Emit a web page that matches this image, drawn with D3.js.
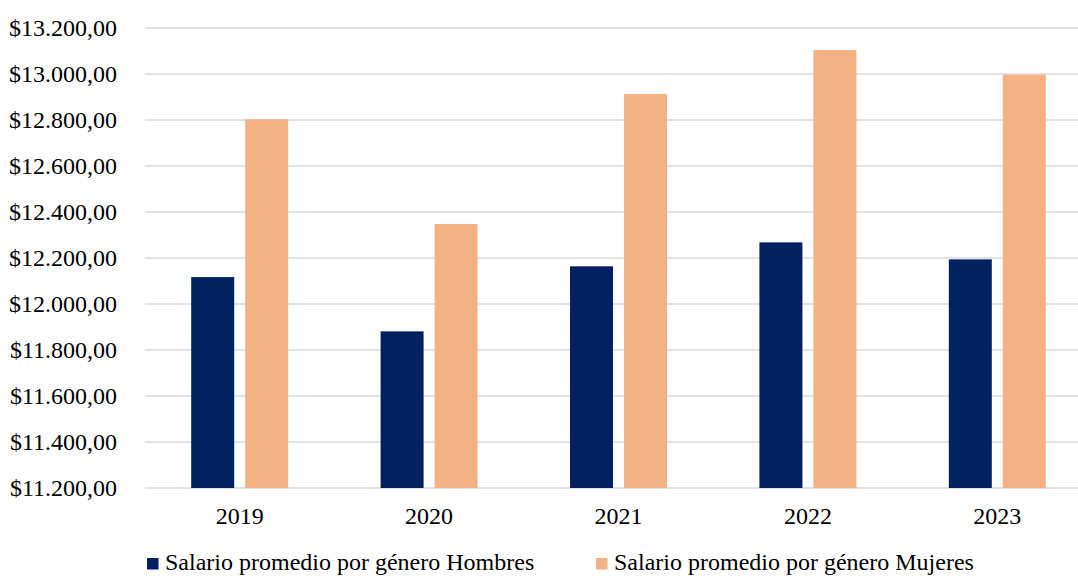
<!DOCTYPE html>
<html>
<head>
<meta charset="utf-8">
<script src="https://cdn.jsdelivr.net/npm/d3@7"></script>
<style>
  html, body { margin: 0; padding: 0; background: #fff; }
  svg { display: block; font-family: "Liberation Serif", "Times New Roman", serif; }
</style>
</head>
<body>
<svg id="chart" width="1078" height="576"></svg>
<script>
const categories = ["2019", "2020", "2021", "2022", "2023"];
const seriesNames = ["Salario promedio por género Hombres", "Salario promedio por género Mujeres"];
const hombres = [12117, 11881, 12164, 12268, 12194];
const mujeres = [12803, 12348, 12913, 13104, 12997];
const yTicks = [11200, 11400, 11600, 11800, 12000, 12200, 12400, 12600, 12800, 13000, 13200];
const colors = ["#002060", "#F4B183"];

const svg = d3.select("#chart");
const plot = { left: 145, right: 1092, top: 28, bottom: 488 };
const FS = "24px";

const x0 = d3.scaleBand().domain(categories).range([plot.left, plot.right])
  .paddingInner(0.488).paddingOuter(0.244);
const x1 = d3.scaleBand().domain([0, 1]).range([0, x0.bandwidth()]).paddingInner(0.204);
const y = d3.scaleLinear().domain([11200, 13200]).range([plot.bottom, plot.top]);

const fmt = v => "$" + d3.format(",.2f")(v).replace(/,/g, "#").replace(/\./g, ",").replace(/#/g, ".");

// gridlines
svg.append("g").selectAll("line").data(yTicks).join("line")
  .attr("x1", plot.left).attr("x2", plot.right)
  .attr("y1", d => y(d)).attr("y2", d => y(d))
  .attr("stroke", "#D9D9D9").attr("stroke-width", 1.5);

// y axis labels
const yAxis = d3.axisLeft(y).tickValues(yTicks).tickFormat(fmt).tickSize(0).tickPadding(0);
const gy = svg.append("g").attr("transform", `translate(117,0)`).call(yAxis);
gy.select(".domain").remove();
gy.selectAll("text").attr("font-size", FS).attr("fill", "#000")
  .style("font-family", '"Liberation Serif", "Times New Roman", serif');

// bars
const series = [hombres, mujeres];
const g = svg.append("g");
series.forEach((vals, si) => {
  g.append("g").selectAll("rect").data(vals).join("rect")
    .attr("x", (d, i) => x0(categories[i]) + x1(si))
    .attr("width", x1.bandwidth())
    .attr("y", d => y(d))
    .attr("height", d => y(11200) - y(d))
    .attr("fill", colors[si]);
});

// x axis labels
const xAxis = d3.axisBottom(x0).tickSize(0).tickPadding(0);
const gx = svg.append("g").attr("transform", `translate(0,${plot.bottom + 36})`).call(xAxis);
gx.select(".domain").remove();
gx.selectAll("text").attr("font-size", FS).attr("fill", "#000").attr("dy", 0)
  .style("font-family", '"Liberation Serif", "Times New Roman", serif');

// legend
const legendX = [147, 596];
const legend = svg.append("g");
seriesNames.forEach((name, i) => {
  legend.append("rect").attr("x", legendX[i]).attr("y", 558).attr("width", 11.5).attr("height", 11.5)
    .attr("fill", colors[i]);
  legend.append("text").attr("x", legendX[i] + 18).attr("y", 570)
    .attr("font-size", FS).attr("fill", "#000").text(name);
});
</script>
</body>
</html>
